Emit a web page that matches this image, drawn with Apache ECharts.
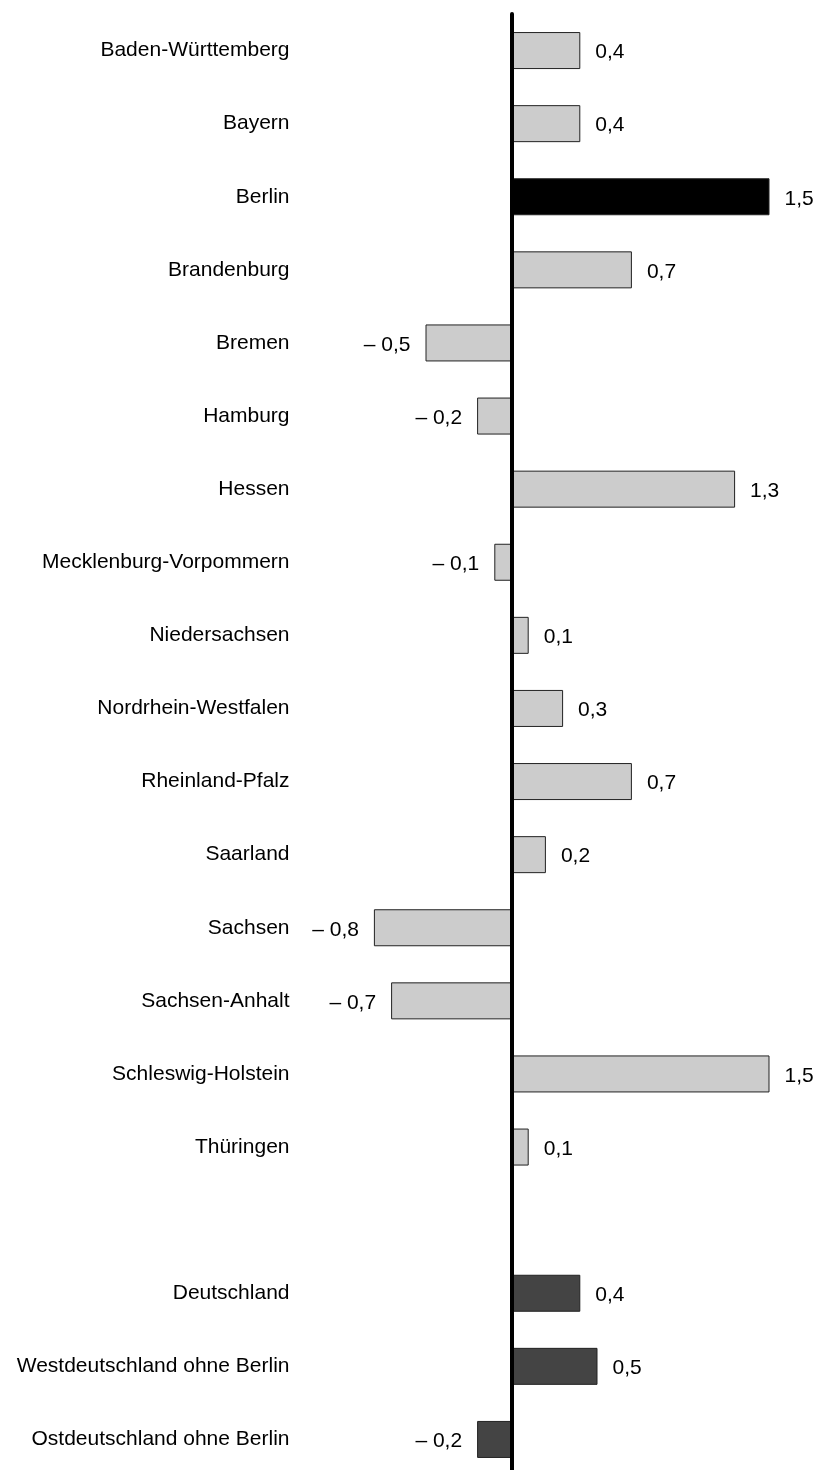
<!DOCTYPE html>
<html><head><meta charset="utf-8">
<script src="https://cdn.jsdelivr.net/npm/echarts@6/dist/echarts.min.js"></script>
<style>html,body{margin:0;padding:0;background:#fff}#c{width:819px;height:1470px}</style>
</head><body><div id="c"></div>
<script>
const categories = ['Baden-Württemberg','Bayern','Berlin','Brandenburg','Bremen','Hamburg','Hessen','Mecklenburg-Vorpommern','Niedersachsen','Nordrhein-Westfalen','Rheinland-Pfalz','Saarland','Sachsen','Sachsen-Anhalt','Schleswig-Holstein','Thüringen','','Deutschland','Westdeutschland ohne Berlin','Ostdeutschland ohne Berlin'];
const values = [0.4,0.4,1.5,0.7,-0.5,-0.2,1.3,-0.1,0.1,0.3,0.7,0.2,-0.8,-0.7,1.5,0.1,null,0.4,0.5,-0.2];
const highlighted = ['Berlin'];
const aggregates = ['Deutschland','Westdeutschland ohne Berlin','Ostdeutschland ohne Berlin'];

function fillFor(name){
  if (highlighted.includes(name)) return '#000000';
  if (aggregates.includes(name)) return '#444444';
  return '#cccccc';
}
function fmt(v){
  const s = Math.abs(v).toFixed(1).replace('.', ',');
  return v < 0 ? '\u2013 ' + s : s;
}
const data = values.map((v,i)=> v===null ? '-' : ({
  value: v,
  itemStyle: {color: fillFor(categories[i])},
  label: {position: v < 0 ? 'left' : 'right'}
}));

const chart = echarts.init(document.getElementById('c'), null, {renderer:'canvas'});
chart.setOption({
  animation:false,
  grid:{left:339.5, top:14, width:447.2, height:1462, outerBoundsMode:'none', containLabel:false},
  xAxis:{type:'value', min:-1, max:1.6, show:false},
  yAxis:{type:'category', data:categories, inverse:true, z:5,
    axisLine:{show:true, onZero:true, lineStyle:{color:'#000', width:4}},
    axisTick:{show:false},
    axisLabel:{margin:50, fontFamily:'Liberation Sans, Arial, sans-serif', fontSize:21, color:'#000'}
  },
  series:[{
    type:'bar', data:data, barWidth:37,
    itemStyle:{borderColor:'#222', borderWidth:1},
    label:{show:true, distance:15, fontFamily:'Liberation Sans, Arial, sans-serif', fontSize:21, color:'#000', offset:[0,2],
      formatter:p=>fmt(p.value)}
  }]
});
</script></body></html>
